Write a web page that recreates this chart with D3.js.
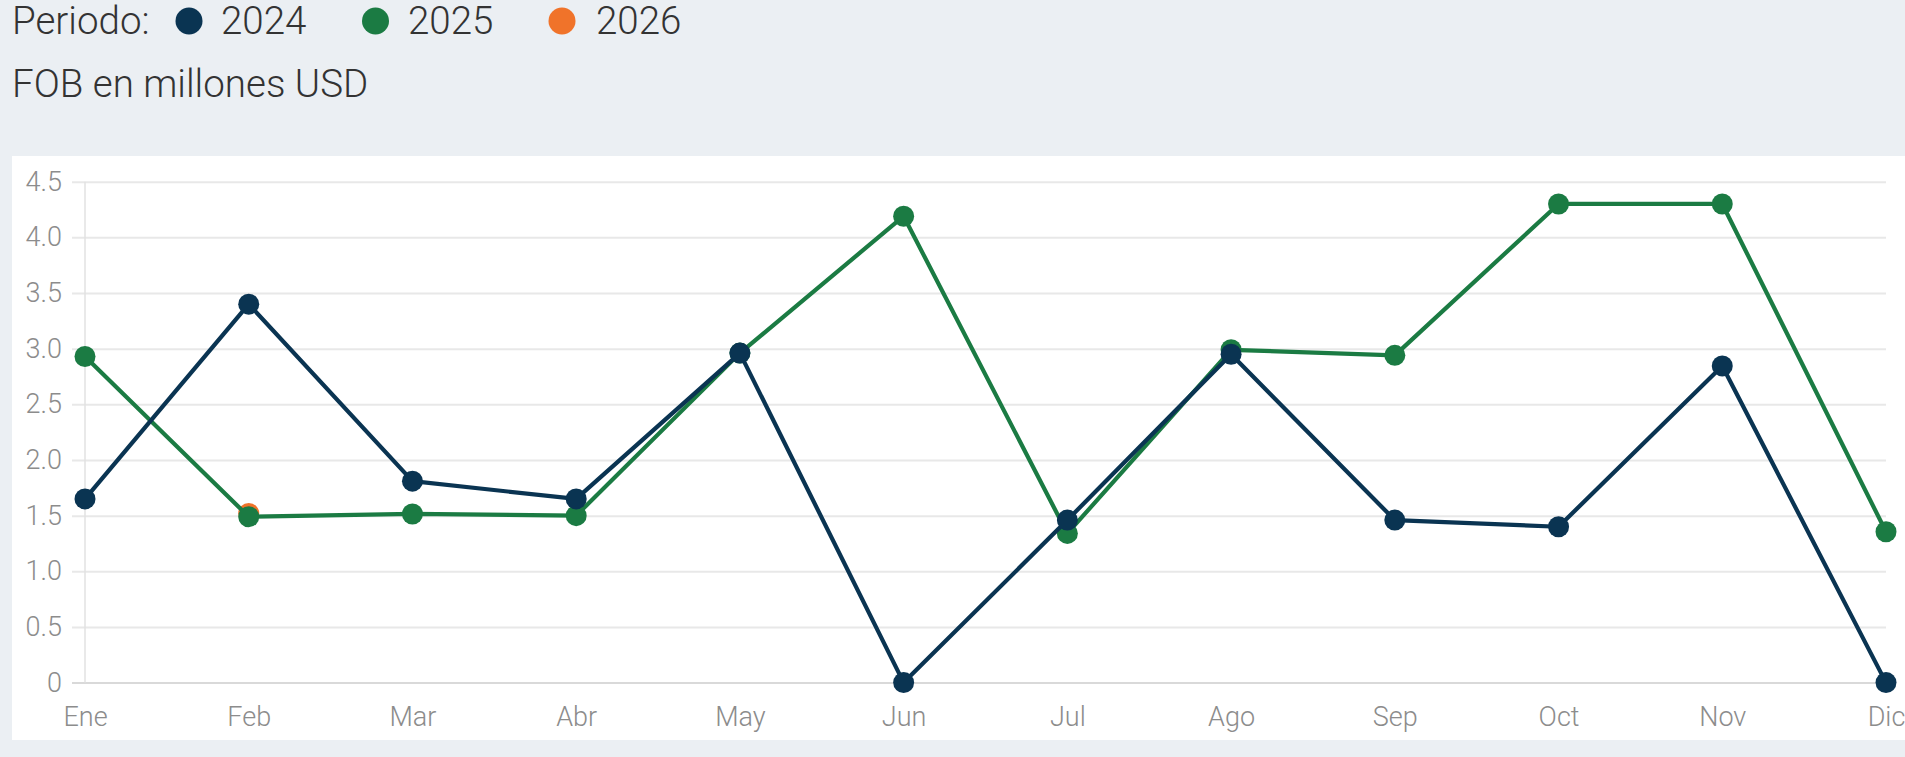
<!DOCTYPE html>
<html>
<head>
<meta charset="utf-8">
<script src="https://cdn.jsdelivr.net/npm/d3@7"></script>
<style>
  body { margin: 0; background: #ebeff3; font-family: Roboto, "Open Sans", sans-serif; }
  svg { display: block; }
</style>
</head>
<body>
<svg id="canvas" width="1905" height="757"></svg>
<script>
// months and values (FOB, millones USD)
let months = ['Ene', 'Feb', 'Mar', 'Abr', 'May', 'Jun', 'Jul', 'Ago', 'Sep', 'Oct', 'Nov', 'Dic']
let years = ['2024', '2025', '2026']
let values2024 = [1.65, 3.40, 1.81, 1.65, 2.96, 0, 1.46, 2.95, 1.46, 1.40, 2.845, 0]
let values2025 = [2.93, 1.49, 1.515, 1.50, 2.96, 4.19, 1.34, 2.99, 2.94, 4.30, 4.30, 1.355]
let values2026 = [null, 1.52, null, null, null, null, null, null, null, null, null, null]
let yTicks = [0, 0.5, 1, 1.5, 2, 2.5, 3, 3.5, 4, 4.5]
let colors = ['#0a3452', '#1b7b43', '#f0732a']

let canvas = d3.select('#canvas')

// legend + subtitle
canvas.append('text')
    .attr('x', 12).attr('y', 34)
    .attr('font-size', 38.5).attr('font-weight', 300).attr('fill', '#333')
    .text('Periodo:')

let legendDots = [189, 375.5, 562]
let legendText = [221, 408, 596]
years.forEach((y, i) => {
    canvas.append('circle')
        .attr('cx', legendDots[i]).attr('cy', 21).attr('r', 13.5)
        .attr('fill', colors[i])
    canvas.append('text')
        .attr('x', legendText[i]).attr('y', 34)
        .attr('font-size', 38.5).attr('font-weight', 300).attr('fill', '#333')
        .text(y)
})

canvas.append('text')
    .attr('x', 12).attr('y', 97)
    .attr('font-size', 38.5).attr('font-weight', 300).attr('fill', '#333')
    .text('FOB en millones USD')

// white chart panel
canvas.append('rect')
    .attr('x', 12).attr('y', 156)
    .attr('width', 1905 - 12).attr('height', 740 - 156)
    .attr('fill', '#fff')

let xScale = d3.scalePoint().domain(months).range([85, 1886])
let yScale = d3.scaleLinear().domain([0, 4.5]).range([682.6, 181.7])

// y gridlines + labels
let yAxis = d3.axisLeft(yScale)
    .tickValues(yTicks)
    .tickSize(-(1886 - 72))
    .tickPadding(10)
    .tickFormat(d => d === 0 ? '0' : d.toFixed(1))

canvas.append('g')
    .attr('transform', 'translate(72,0)')
    .call(yAxis)
    .call(g => g.select('.domain').remove())
    .call(g => g.selectAll('.tick line').attr('stroke', (d) => d === 0 ? '#d9d9d9' : '#e8e8e8').attr('stroke-width', 2))
    .call(g => g.selectAll('.tick text')
        .attr('font-size', 27).attr('font-weight', 300).attr('fill', '#8c8c8c')
        .attr('font-family', 'Roboto, sans-serif'))

// vertical axis line
canvas.append('line')
    .attr('x1', 85).attr('x2', 85)
    .attr('y1', yScale(4.5)).attr('y2', yScale(0))
    .attr('stroke', '#e2e2e2').attr('stroke-width', 1.5)

// x labels
let xAxis = d3.axisBottom(xScale).tickSize(0).tickPadding(24)
canvas.append('g')
    .attr('transform', 'translate(0,' + yScale(0) + ')')
    .call(xAxis)
    .call(g => g.select('.domain').remove())
    .call(g => g.selectAll('.tick text')
        .attr('font-size', 27).attr('font-weight', 300).attr('fill', '#8c8c8c')
        .attr('font-family', 'Roboto, sans-serif'))

// series drawn bottom-up: 2026, 2025, 2024
let series = [values2024, values2025, values2026]
let line = d3.line()
    .defined(d => d != null)
    .x((d, i) => xScale(months[i]))
    .y(d => yScale(d))

for (let s = series.length - 1; s >= 0; s--) {
    let g = canvas.append('g')
    g.append('path')
        .datum(series[s])
        .attr('d', line)
        .attr('fill', 'none')
        .attr('stroke', colors[s])
        .attr('stroke-width', 4.2)
        .attr('stroke-linejoin', 'round')
    g.selectAll('circle')
        .data(series[s].map((v, i) => ({ v: v, m: months[i] })).filter(d => d.v != null))
        .enter()
        .append('circle')
        .attr('cx', d => xScale(d.m))
        .attr('cy', d => yScale(d.v))
        .attr('r', 10.5)
        .attr('fill', colors[s])
}
</script>
</body>
</html>
